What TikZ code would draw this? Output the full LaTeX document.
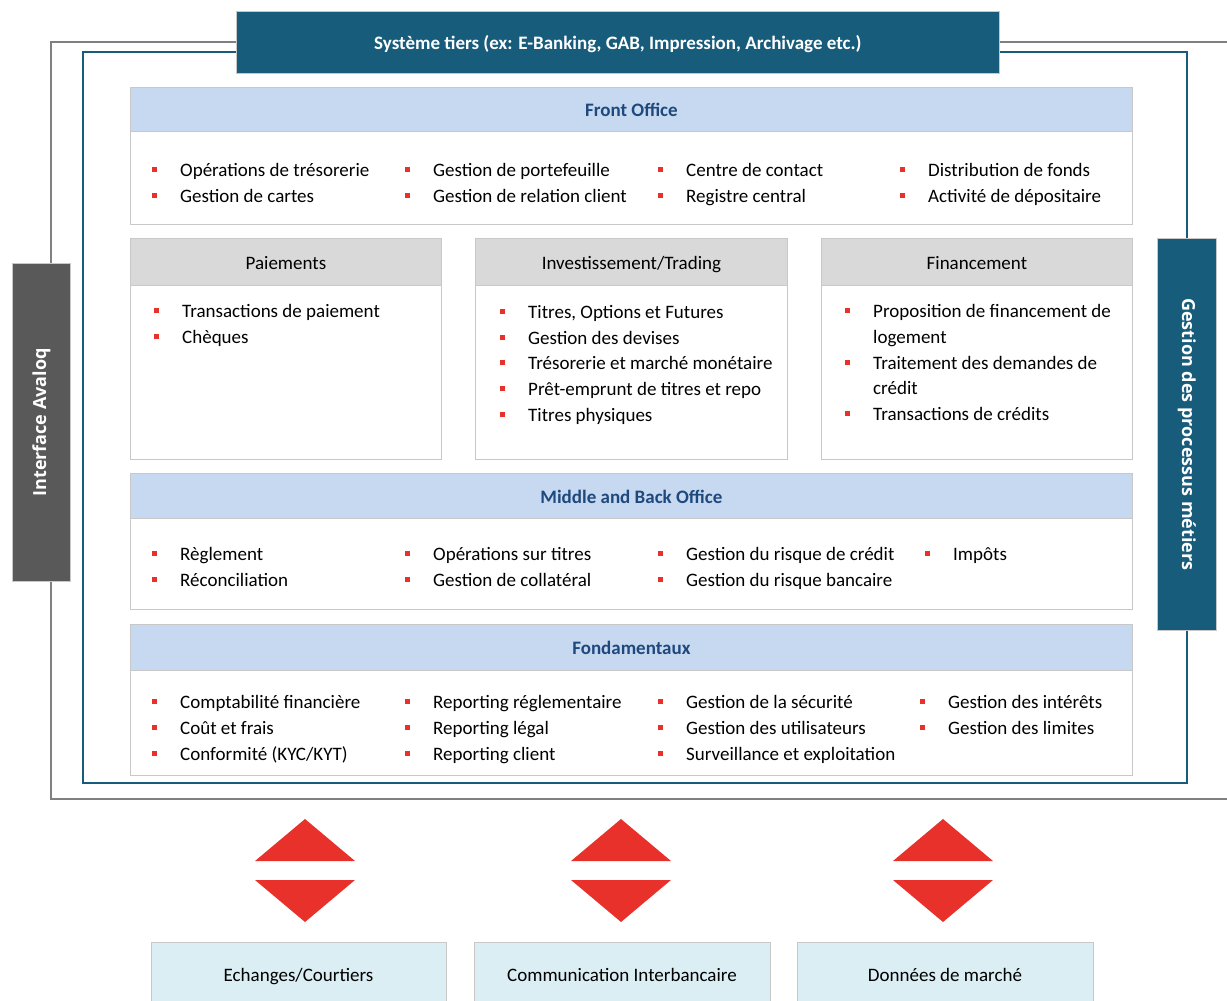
\documentclass[tikz,border=0pt]{standalone}
\usepackage{fontspec}
\setmainfont{Carlito}
\newfontfamily\barfont{Open Sans}

\definecolor{bannerblue}{HTML}{185C7C}
\definecolor{headblue}{HTML}{C6D9F0}
\definecolor{headgray}{HTML}{D9D9D9}
\definecolor{panelgray}{HTML}{C8C8C8}
\definecolor{framegray}{HTML}{808080}
\definecolor{titleblue}{HTML}{1F497D}
\definecolor{bulred}{HTML}{E8312A}
\definecolor{bargray}{HTML}{595959}
\definecolor{extblue}{HTML}{DAEEF3}

\tikzset{
  panel/.style={draw=panelgray,fill=white,line width=0.8pt,anchor=north west,inner sep=0pt},
  bluehead/.style={panel,fill=headblue,text=titleblue,text height=16pt,text depth=1pt,font=\fontsize{19}{22}\selectfont\bfseries},
  grayhead/.style={panel,fill=headgray,text height=16pt,text depth=1pt,font=\fontsize{19}{22}\selectfont},
  item/.style={anchor=base west,inner sep=0pt,font=\fontsize{19}{22}\selectfont},
  sidebar/.style={draw=panelgray,line width=0.8pt,inner sep=0pt,text=white,font=\barfont\fontsize{18}{20}\selectfont\bfseries},
  extbox/.style={panel,fill=extblue},
  exttext/.style={text height=16pt,text depth=1pt,font=\fontsize{19}{22}\selectfont}
}
\newcommand\puce{\textcolor{bulred}{\rule[4pt]{5pt}{5pt}}\hspace{23pt}}

\begin{document}
\begin{tikzpicture}[x=1pt,y=-1pt]
\useasboundingbox (0,0) rectangle (1227,1001);

% frames
\draw[framegray,line width=1.2pt] (1240,42) -- (51,42) -- (51,799) -- (1240,799);
\draw[bannerblue,line width=1.2pt] (83,52) rectangle (1187,783);

\node[sidebar,fill=bannerblue,anchor=north west,minimum width=763,minimum height=62,text height=16pt,text depth=1pt,font=\fontsize{19}{22}\selectfont\bfseries] (tiers) at (236,11) {Système tiers (ex: E-Banking, GAB, Impression, Archivage etc.)};
\node[sidebar,fill=bargray,anchor=north west,minimum width=58,minimum height=318] (avaloq) at (12,263) {};
\node[rotate=90,text=white,font=\barfont\fontsize{18}{20}\selectfont\bfseries] (avaloq-txt) at (avaloq.center) {Interface Avaloq};
\node[sidebar,fill=bannerblue,anchor=north west,minimum width=59,minimum height=392] (metiers) at (1157,238) {};
\node[rotate=-90,text=white,font=\barfont\fontsize{18}{20}\selectfont\bfseries] (metiers-txt) at (metiers.center) {Gestion des processus métiers};

% Front Office
\node[panel,minimum width=1002,minimum height=137] (fo) at (130,87) {};
\node[bluehead,minimum width=1002,minimum height=44] (fo-head) at (130,87) {Front Office};
\foreach \px/\py/\txt [count=\i] in {152/176/{Opérations de trésorerie},152/202/{Gestion de cartes},
    405/176/{Gestion de portefeuille},405/202/{Gestion de relation client},
    658/176/{Centre de contact},658/202/{Registre central},
    900/176/{Distribution de fonds},900/202/{Activité de dépositaire}}
  \node[item] (fo-\i) at (\px,\py) {\puce\txt};

% Paiements / Investissement / Financement
\node[panel,minimum width=311,minimum height=221] (pai) at (130,238) {};
\node[grayhead,minimum width=311,minimum height=47] (pai-head) at (130,238) {Paiements};
\node[panel,minimum width=312,minimum height=221] (inv) at (475,238) {};
\node[grayhead,minimum width=312,minimum height=47] (inv-head) at (475,238) {Investissement/Trading};
\node[panel,minimum width=311,minimum height=221] (fin) at (821,238) {};
\node[grayhead,minimum width=311,minimum height=47] (fin-head) at (821,238) {Financement};

\foreach \py/\txt [count=\i] in {317/{Transactions de paiement},343/{Chèques}}
  \node[item] (pai-\i) at (154,\py) {\puce\txt};
\foreach \py/\txt [count=\i] in {318/{Titres, Options et Futures},344/{Gestion des devises},
    369/{Trésorerie et marché monétaire},395/{Prêt-emprunt de titres et repo},421/{Titres physiques}}
  \node[item] (inv-\i) at (500,\py) {\puce\txt};
\foreach \py/\txt [count=\i] in {317/{Proposition de financement de},369/{Traitement des demandes de},420/{Transactions de crédits}}
  \node[item] (fin-\i) at (845,\py) {\puce\txt};
\node[item] (fin-1b) at (873,343) {logement};
\node[item] (fin-2b) at (873,394) {crédit};

% Middle and Back Office
\node[panel,minimum width=1002,minimum height=136] (mbo) at (130,473) {};
\node[bluehead,minimum width=1002,minimum height=45] (mbo-head) at (130,473) {Middle and Back Office};
\foreach \px/\py/\txt [count=\i] in {152/560/{Règlement},152/586/{Réconciliation},
    405/560/{Opérations sur titres},405/586/{Gestion de collatéral},
    658/560/{Gestion du risque de crédit},658/586/{Gestion du risque bancaire},
    925/560/{Impôts}}
  \node[item] (mbo-\i) at (\px,\py) {\puce\txt};

% Fondamentaux
\node[panel,minimum width=1002,minimum height=151] (fond) at (130,624) {};
\node[bluehead,minimum width=1002,minimum height=46] (fond-head) at (130,624) {Fondamentaux};
\foreach \px/\py/\txt [count=\i] in {152/708/{Comptabilité financière},152/734/{Coût et frais},152/760/{Conformité (KYC/KYT)},
    405/708/{Reporting réglementaire},405/734/{Reporting légal},405/760/{Reporting client},
    658/708/{Gestion de la sécurité},658/734/{Gestion des utilisateurs},658/760/{Surveillance et exploitation},
    920/708/{Gestion des intérêts},920/734/{Gestion des limites}}
  \node[item] (fond-\i) at (\px,\py) {\puce\txt};

% external systems
\node[extbox,minimum width=295,minimum height=68] (ech) at (151,942) {};
\node[exttext] (ech-txt) at (298.5,974) {Echanges/Courtiers};
\node[extbox,minimum width=296,minimum height=68] (com) at (474,942) {};
\node[exttext] (com-txt) at (622,974) {Communication Interbancaire};
\node[extbox,minimum width=296,minimum height=68] (don) at (797,942) {};
\node[exttext] (don-txt) at (945,974) {Données de marché};

% exchange arrows
\foreach \cx in {305,621,943} {
  \fill[bulred] (\cx-50,861) -- (\cx,819) -- (\cx+50,861) -- cycle;
  \fill[bulred] (\cx-50,880) -- (\cx+50,880) -- (\cx,922) -- cycle;
}
\end{tikzpicture}
\end{document}
